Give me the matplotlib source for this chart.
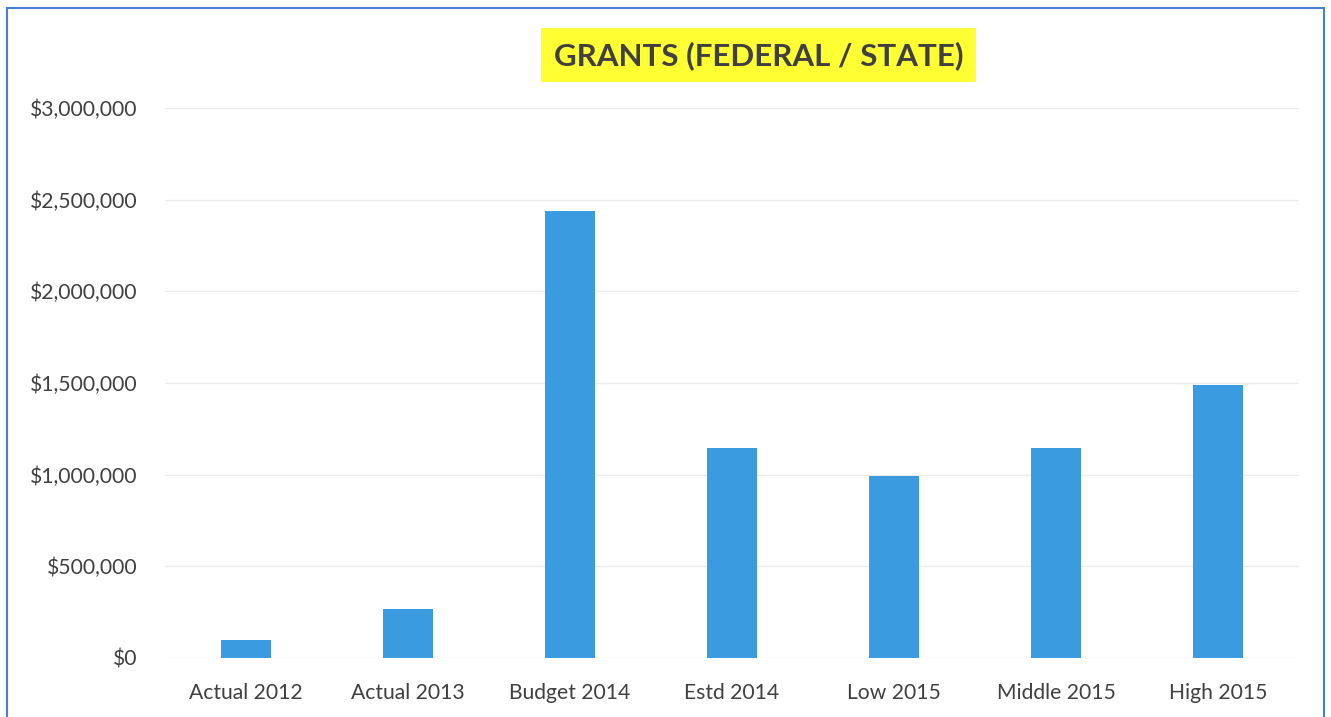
import matplotlib
matplotlib.use("Agg")
import matplotlib.pyplot as plt
from matplotlib.patches import Rectangle
from matplotlib.ticker import FuncFormatter

# datos
categorias = ["Actual 2012", "Actual 2013", "Budget 2014", "Estd 2014",
              "Low 2015", "Middle 2015", "High 2015"]
montos = [98000, 268000, 2438000, 1145000, 993000, 1143000, 1489000]

plt.rcParams['font.family'] = ['Lato', 'DejaVu Sans']

fig = plt.figure(figsize=(13.31, 7.17), dpi=100)
ax = fig.add_axes([0.124, 0.0823, 0.852, 0.767])

x = range(len(categorias))
ax.bar(x, montos, width=0.31, color="#3A9BE0", zorder=3)

ax.set_xlim(-0.5, len(categorias) - 0.5)
ax.set_ylim(0, 3000000)
ax.set_yticks(range(0, 3000001, 500000))
ax.yaxis.set_major_formatter(FuncFormatter(lambda v, p: f"${v:,.0f}"))
ax.set_xticks(list(x))
ax.set_xticklabels(categorias)
ax.tick_params(axis='both', length=0, labelsize=15.2, colors="#404040")
ax.tick_params(axis='y', pad=20)
ax.tick_params(axis='x', pad=18)
ax.grid(axis='y', color="#ececec", linewidth=1, zorder=0)
for s in ax.spines.values():
    s.set_visible(False)

# titulo con fondo amarillo
fig.text(0.570, 0.923, "GRANTS (FEDERAL / STATE)", ha='center', va='center',
         fontsize=22.5, fontweight='bold', color="#404040",
         bbox=dict(boxstyle='square,pad=0.4', facecolor="#FFFF33", edgecolor='none'))

# marco azul
fig.patches.append(Rectangle((0.0053, -0.01), 0.9898, 0.999, transform=fig.transFigure,
                             fill=False, edgecolor="#4A7FD0", linewidth=1.5))

fig.savefig("out.png", dpi=100)
